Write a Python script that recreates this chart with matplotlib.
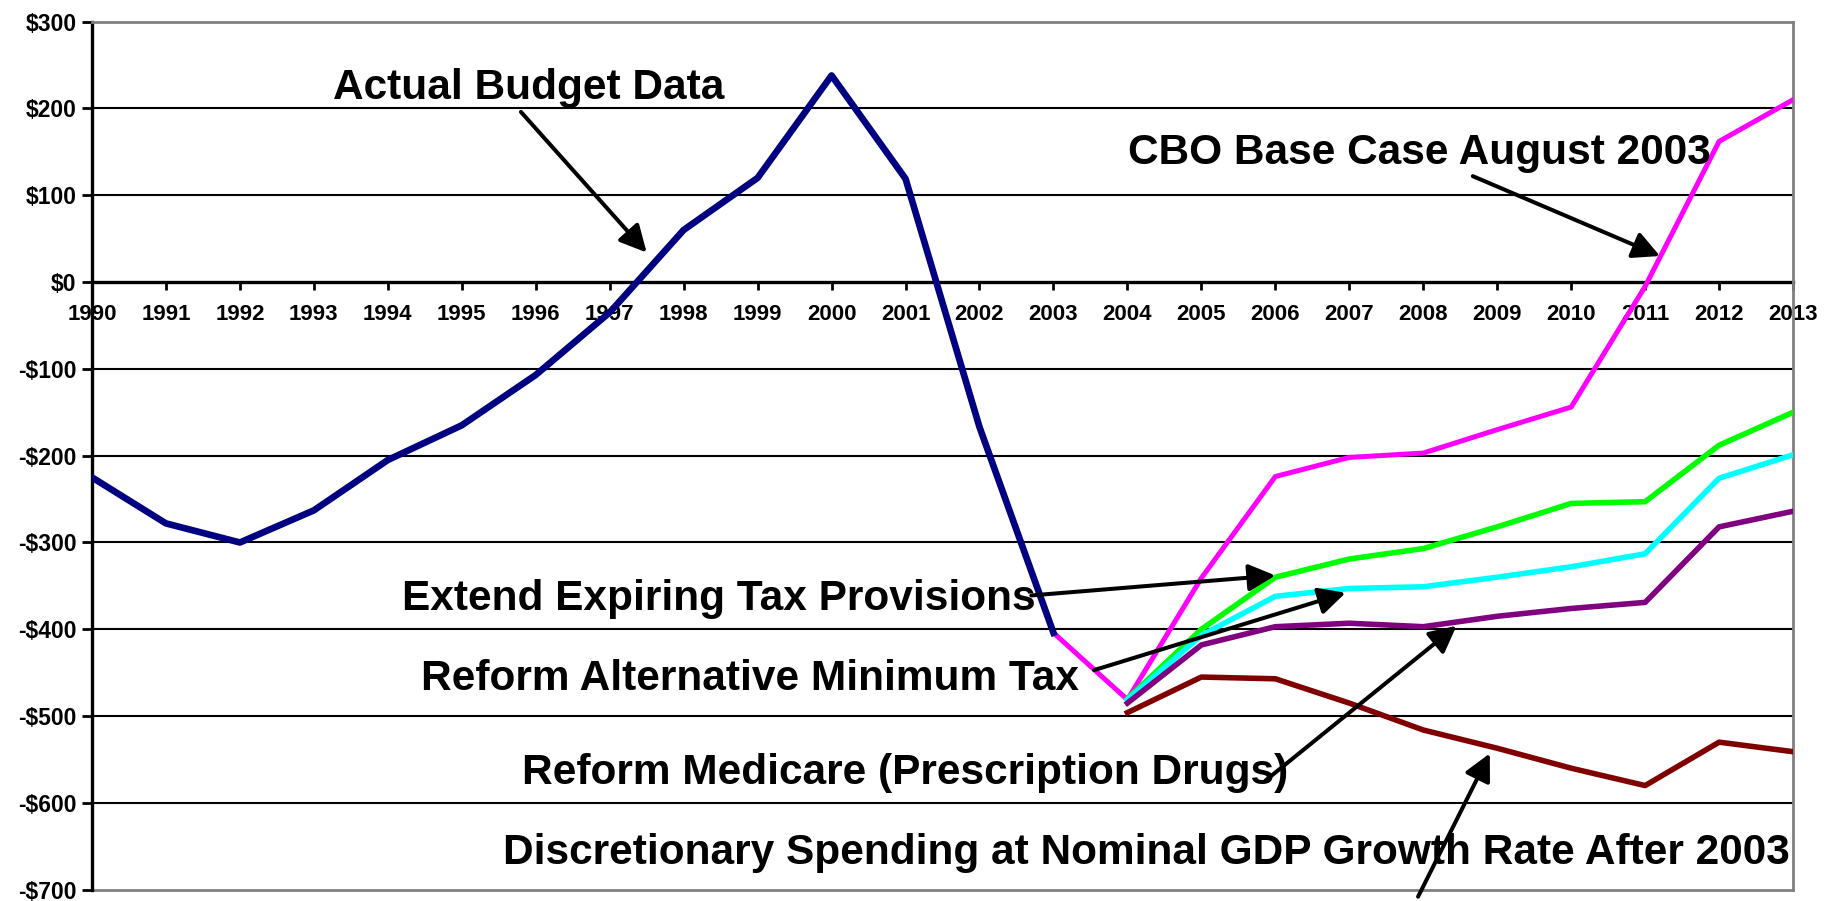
import numpy as np
import matplotlib
matplotlib.use('Agg')
import matplotlib.pyplot as plt

plt.rcParams['font.family'] = ['Liberation Sans', 'DejaVu Sans']
plt.rcParams['font.weight'] = 'bold'

##############################################################################
# data (billions of dollars)
years_actual = list(range(1990, 2004))
actual = [-225, -278, -300, -263, -205, -165, -107, -35, 60, 120, 238, 119, -167, -404]

years_cbo = list(range(2003, 2014))
cbo_base = [-404, -481, -341, -224, -202, -197, -170, -144, -5, 162, 210]

years_proj = list(range(2004, 2014))
extend_tax = [-480, -400, -340, -319, -307, -282, -255, -253, -188, -150]
reform_amt = [-481, -407, -362, -353, -351, -340, -328, -313, -226, -199]
reform_medicare = [-485, -418, -397, -393, -397, -385, -376, -369, -282, -264]
discretionary = [-496, -455, -457, -485, -516, -537, -560, -580, -530, -541]

yticks = list(range(-700, 301, 100))
ytick_labels = ['-$%d' % -v if v < 0 else '$%d' % v for v in yticks]

##############################################################################
fig = plt.figure(figsize=(18.43, 9.01), dpi=100)
ax = fig.add_axes([0.0499, 0.0125, 0.923, 0.9635])

for v in yticks:
  if v in (0, -700, 300):
    continue
  ax.axhline(v, color='black', lw=1.5, zorder=1)
ax.axhline(-700, color='#808080', lw=2, zorder=1, clip_on=False)

ax.plot(years_actual, actual, color='#000080', lw=4.8, zorder=4)
ax.plot(years_cbo, cbo_base, color='#FF00FF', lw=3.6, zorder=3)
ax.plot(years_proj, extend_tax, color='#00FF00', lw=4, zorder=3)
ax.plot(years_proj, reform_amt, color='#00FFFF', lw=4, zorder=3)
ax.plot(years_proj, reform_medicare, color='#800080', lw=4, zorder=3)
ax.plot(years_proj, discretionary, color='#800000', lw=4, zorder=3)

ax.set_xlim(1990, 2013)
ax.set_ylim(-700, 300)

ax.spines['bottom'].set_position(('data', 0))
ax.spines['bottom'].set_linewidth(2.4)
ax.spines['bottom'].set_zorder(2)
ax.spines['left'].set_linewidth(2.4)
for s in ('top', 'right'):
  ax.spines[s].set_color('#808080')
  ax.spines[s].set_linewidth(2)

ax.set_xticks(list(range(1990, 2014)))
ax.set_xticklabels([str(y) for y in range(1990, 2014)], fontsize=16, fontweight='bold')
ax.tick_params(axis='x', direction='out', length=6, width=2, pad=10)
ax.set_yticks(yticks)
ax.set_yticklabels(ytick_labels, fontsize=16.5, fontweight='bold')
ax.tick_params(axis='y', direction='out', length=7, width=2, pad=4)

arrow = dict(arrowstyle='-|>,head_length=0.65,head_width=0.33', color='black', lw=2.9,
             mutation_scale=25, shrinkA=0, shrinkB=0)
notes = [
  ('Actual Budget Data', (1995.9, 223), (1995.8, 196), (1997.5, 34)),
  ('CBO Base Case August 2003', (2007.95, 149), (2008.67, 122), (2011.2, 30)),
  ('Extend Expiring Tax Provisions', (1998.48, -365), (2002.7, -361), (2006.0, -338)),
  ('Reform Alternative Minimum Tax', (1998.9, -457), (2003.55, -447), (2006.95, -358)),
  ('Reform Medicare (Prescription Drugs)', (2001.0, -566), (2005.87, -574), (2008.45, -396)),
  ('Discretionary Spending at Nominal GDP Growth Rate After 2003', (2004.25, -658), (2007.93, -708), (2008.9, -543)),
]
for txt, pos, tail, head in notes:
  ax.text(pos[0], pos[1], txt, ha='center', va='center', fontsize=30.5, fontweight='bold', zorder=6)
  a = ax.annotate('', xy=head, xytext=tail, arrowprops=arrow, zorder=6, annotation_clip=False)
  a.arrow_patch.set_clip_on(False)

fig.savefig('out.png', dpi=100, facecolor='w')
